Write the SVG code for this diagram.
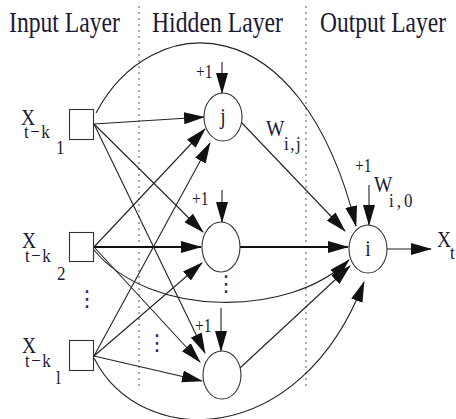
<svg xmlns="http://www.w3.org/2000/svg" width="456" height="419" viewBox="0 0 456 419">
<style>
.t{font-family:"Liberation Serif","Times New Roman",serif;fill:#1a1a33}
.h{font-size:23.5px}
.x{font-size:19.5px}
.s{font-size:17px}
.p{font-size:15.5px}
.d{font-family:"DejaVu Sans",sans-serif;font-size:22px;fill:#2a2a5a}
.ln{stroke:#222;stroke-width:1.1;fill:none;marker-end:url(#ah)}
.bd{stroke:#111;stroke-width:1.8}
.nd{fill:#fff;stroke:#333;stroke-width:1.1}
.dv{stroke:#555;stroke-width:1;stroke-dasharray:2 4;fill:none}
</style>
<defs>
<marker id="ah" markerUnits="userSpaceOnUse" markerWidth="21" markerHeight="12" refX="20" refY="6" orient="auto" viewBox="0 0 21 12"><path d="M0,0 L21,6 L0,12 z" fill="#111"/></marker>
</defs>
<rect width="456" height="419" fill="#fff"/>
<g id="headers">
<text class="t h" transform="translate(9,32) scale(1,1.22)" textLength="111" lengthAdjust="spacingAndGlyphs">Input Layer</text>
<text class="t h" transform="translate(152,32) scale(1,1.22)" textLength="131" lengthAdjust="spacingAndGlyphs">Hidden Layer</text>
<text class="t h" transform="translate(320,32) scale(1,1.22)" textLength="126" lengthAdjust="spacingAndGlyphs">Output Layer</text>
</g>
<g id="dividers">
<line class="dv" x1="139" y1="6" x2="139" y2="390"/>
<line class="dv" x1="306" y1="6" x2="306" y2="390"/>
</g>
<g id="connectors">
<line class="ln" x1="94" y1="124" x2="204" y2="117"/>
<line class="ln" x1="94" y1="124" x2="203" y2="232"/>
<line class="ln" x1="94" y1="124" x2="205" y2="353"/>
<line class="ln" x1="94" y1="247" x2="205" y2="129"/>
<line class="ln bd" x1="94" y1="247" x2="201" y2="247"/>
<line class="ln" x1="94" y1="247" x2="200" y2="362"/>
<line class="ln" x1="94" y1="356" x2="210" y2="143"/>
<line class="ln" x1="94" y1="356" x2="202" y2="263"/>
<line class="ln" x1="94" y1="356" x2="202" y2="381"/>
<line class="ln" x1="241" y1="122" x2="345" y2="231"/>
<line class="ln bd" x1="240" y1="247" x2="348" y2="247"/>
<line class="ln" x1="240" y1="368" x2="350" y2="266"/>
<path class="ln" d="M96,113 C150,10 300,0 356,226"/>
<path class="ln" d="M94,250 C150,318 290,318 349,260"/>
<path class="ln" d="M94,358 C140,450 300,450 364,282"/>
<line class="ln" x1="387" y1="249" x2="431" y2="249"/>
<line class="ln" x1="222" y1="62" x2="222" y2="93"/>
<line class="ln" x1="222" y1="190" x2="222" y2="222"/>
<line class="ln" x1="221" y1="308" x2="221" y2="351"/>
<line class="ln" x1="369" y1="185" x2="369" y2="225"/>
</g>
<g id="in1">
<rect class="nd" x="69.5" y="109.5" width="24" height="30"/>
<text class="t x" transform="translate(21,125) scale(1,1.15)">X<tspan class="s" x="3" y="11.3" letter-spacing="1.5">t−k</tspan><tspan class="s" x="35" y="25.2">1</tspan></text>
</g>
<g id="in2">
<rect class="nd" x="69.5" y="232.5" width="24" height="29"/>
<text class="t x" transform="translate(22,248) scale(1,1.15)">X<tspan class="s" x="3" y="12.2" letter-spacing="1.5">t−k</tspan><tspan class="s" x="35" y="27.8">2</tspan></text>
<text class="d" x="76" y="306">⋮</text>
</g>
<g id="in3">
<rect class="nd" x="69.5" y="340.5" width="24" height="30"/>
<text class="t x" transform="translate(22,353) scale(1,1.15)">X<tspan class="s" x="3" y="12.2" letter-spacing="1.5">t−k</tspan><tspan class="s" x="34" y="27">l</tspan></text>
</g>
<g id="h1">
<ellipse class="nd" cx="223" cy="117" rx="19" ry="24"/>
<text class="t x" transform="translate(223,124) scale(1,1.2)" text-anchor="middle">j</text>
<text class="t p" transform="translate(196,78) scale(1,1.2)">+1</text>
</g>
<g id="h2">
<ellipse class="nd" cx="221" cy="247" rx="19" ry="25"/>
<text class="t p" transform="translate(192,205) scale(1,1.2)">+1</text>
<text class="d" x="215" y="291">⋮</text>
</g>
<g id="h3">
<ellipse class="nd" cx="222" cy="375" rx="19" ry="24"/>
<text class="t p" transform="translate(195,332) scale(1,1.2)">+1</text>
<text class="d" x="146" y="350">⋮</text>
</g>
<g id="out">
<ellipse class="nd" cx="368" cy="249" rx="19" ry="24"/>
<text class="t x" transform="translate(368,256) scale(1,1.2)" text-anchor="middle">i</text>
<text class="t p" transform="translate(355,172) scale(1,1.2)">+1</text>
<text class="t x" transform="translate(374,192) scale(1,1.15)">W<tspan class="s" x="15" y="13" letter-spacing="3">i,0</tspan></text>
<text class="t x" transform="translate(437,247) scale(1,1.15)">X<tspan class="s" x="13" y="10.4">t</tspan></text>
</g>
<g id="wij">
<text class="t x" transform="translate(266,136) scale(1,1.15)">W<tspan class="s" x="18" y="12.2" letter-spacing="1.5">i,j</tspan></text>
</g>
</svg>
